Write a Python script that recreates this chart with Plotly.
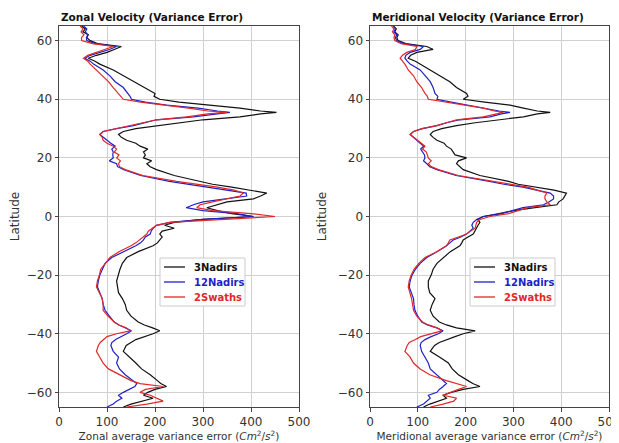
import plotly.graph_objects as go

lat = [65, 64, 63, 62, 61, 60, 59, 58, 57, 56, 55, 54, 53, 52, 50, 48, 46, 44, 42, 41,
       40, 39, 38, 37, 36, 35.5, 35, 34, 33, 32, 31, 30, 29, 28, 27, 26, 25, 24, 23, 22,
       21, 20, 19, 18, 17, 16, 14, 12, 11, 10, 9, 8, 7, 6, 5, 4, 3, 2, 1, 0,
       -1, -2, -3, -4, -5, -6, -7, -8, -9, -10, -12, -14, -16, -18, -20, -22, -24, -26, -28, -30,
       -32, -34, -36, -37, -38, -39, -40, -41, -42, -43, -44, -46, -48, -50, -52, -54, -56, -57, -58, -59,
       -60, -61, -62, -63, -64, -65]

zonal_3nadirs = [47, 55, 50, 61, 58, 65, 80, 130, 115, 100, 78, 61, 75, 85, 113, 134, 155, 176, 200, 198,
                 210, 250, 321, 377, 420, 453, 420, 377, 300, 250, 203, 160, 134, 124, 130, 141, 160, 169, 185, 176,
                 180, 176, 193, 183, 190, 203, 240, 290, 320, 360, 400, 433, 420, 405, 350, 328, 308, 330, 360, 405,
                 300, 240, 220, 240, 215, 210, 215, 210, 205, 196, 165, 141, 132, 127, 124, 120, 122, 124, 132, 138,
                 141, 150, 165, 178, 195, 210, 196, 180, 160, 150, 140, 134, 148, 160, 172, 190, 205, 212, 224, 200,
                 185, 176, 196, 170, 150, 134]
zonal_12nadirs = [51, 58, 55, 60, 57, 58, 75, 120, 105, 85, 65, 54, 65, 72, 92, 106, 117, 134, 144, 148,
                  151, 180, 224, 290, 330, 356, 330, 280, 203, 180, 155, 120, 92, 85, 92, 100, 108, 117, 110, 113,
                  112, 113, 105, 120, 122, 135, 170, 230, 270, 315, 360, 390, 391, 340, 300, 280, 265, 300, 370, 405,
                  300, 231, 203, 196, 192, 190, 180, 176, 170, 160, 135, 110, 96, 90, 85, 82, 80, 85, 90, 92,
                  96, 105, 115, 125, 140, 151, 141, 128, 118, 110, 108, 113, 124, 120, 126, 138, 155, 162, 158, 145,
                  134, 124, 131, 120, 113, 100]
zonal_2swaths = [44, 50, 46, 52, 47, 47, 70, 113, 95, 78, 60, 51, 60, 65, 78, 89, 103, 113, 124, 128,
                 134, 170, 224, 270, 310, 350, 310, 266, 203, 175, 148, 115, 92, 85, 90, 92, 100, 113, 120, 115,
                 125, 120, 128, 124, 126, 138, 175, 245, 290, 330, 365, 384, 377, 345, 320, 294, 287, 320, 400, 450,
                 328, 231, 203, 195, 186, 183, 175, 169, 160, 150, 125, 106, 96, 87, 84, 80, 78, 84, 90, 92,
                 92, 102, 115, 125, 140, 148, 120, 100, 92, 86, 82, 78, 85, 92, 103, 125, 150, 169, 217, 180,
                 169, 190, 203, 217, 183, 141]

merid_3nadirs = [49, 55, 52, 59, 56, 59, 75, 119, 132, 98, 85, 80, 95, 105, 126, 146, 167, 181, 202, 205,
                 195, 240, 293, 321, 350, 377, 350, 321, 265, 220, 181, 150, 132, 126, 132, 140, 155, 160, 170, 174,
                 178, 202, 185, 181, 188, 195, 230, 290, 310, 350, 385, 411, 408, 404, 395, 391, 345, 300, 270, 237,
                 225, 230, 226, 223, 220, 216, 205, 195, 192, 188, 168, 153, 140, 132, 128, 122, 122, 125, 136, 130,
                 126, 132, 145, 160, 181, 220, 195, 178, 160, 145, 135, 126, 146, 164, 172, 185, 205, 215, 230, 195,
                 170, 153, 160, 140, 125, 112]
merid_12nadirs = [49, 53, 50, 56, 53, 56, 70, 112, 105, 84, 75, 73, 78, 84, 105, 115, 126, 132, 136, 142,
                  140, 170, 202, 237, 270, 293, 275, 251, 188, 160, 140, 110, 91, 84, 90, 98, 105, 112, 106, 110,
                  114, 115, 112, 119, 125, 140, 180, 250, 280, 320, 350, 377, 384, 384, 375, 363, 320, 300, 275, 237,
                  223, 216, 213, 216, 208, 202, 190, 174, 167, 160, 140, 119, 105, 95, 88, 84, 82, 86, 91, 92,
                  94, 100, 108, 120, 140, 153, 143, 128, 115, 107, 105, 108, 115, 122, 126, 140, 155, 160, 153, 145,
                  140, 122, 126, 118, 112, 98]
merid_2swaths = [45, 50, 47, 52, 50, 52, 65, 98, 95, 77, 68, 63, 68, 73, 80, 91, 98, 108, 115, 120,
                 122, 160, 195, 237, 260, 279, 265, 237, 181, 160, 140, 108, 91, 84, 92, 98, 106, 115, 110, 118,
                 120, 122, 128, 122, 128, 143, 185, 260, 290, 330, 350, 370, 366, 366, 370, 377, 330, 310, 290, 251,
                 230, 223, 222, 220, 210, 202, 185, 167, 164, 160, 140, 115, 102, 92, 86, 82, 80, 84, 87, 89,
                 91, 98, 110, 122, 140, 150, 126, 106, 95, 82, 78, 73, 84, 91, 105, 125, 160, 180, 202, 185,
                 167, 153, 181, 175, 153, 126]

series_names = ["3Nadirs", "12Nadirs", "2Swaths"]
series_colors = ["#111111", "#1f1fc8", "#e02828"]
panel_titles = ["Zonal Velocity (Variance Error)", "Meridional Velocity (Variance Error)"]
x_titles = ["Zonal average variance error (<i>Cm</i><sup>2</sup>/<i>s</i><sup>2</sup>)",
            "Meridional average variance error (<i>Cm</i><sup>2</sup>/<i>s</i><sup>2</sup>)"]
x_ticks = [0, 100, 200, 300, 400, 500]
y_ticks = [-60, -40, -20, 0, 20, 40, 60]

# The page body has an 8px margin, so the figure is drawn offset by (8, 8).
OFF = 8
W, H = 619 - OFF, 443 - OFF


def px(x):
    return (x - OFF) / W


def py(y):
    return 1 - (y - OFF) / H


fig = go.Figure()

panels = [(zonal_3nadirs, zonal_12nadirs, zonal_2swaths),
          (merid_3nadirs, merid_12nadirs, merid_2swaths)]

for p, data in enumerate(panels):
    xa = "x" if p == 0 else "x2"
    ya = "y" if p == 0 else "y2"
    for vals, name, col in zip(data, series_names, series_colors):
        fig.add_trace(go.Scatter(
            x=vals, y=lat, mode="lines", xaxis=xa, yaxis=ya,
            line=dict(color=col, width=1.2), name=name, showlegend=False,
        ))

dom_x = [[px(59), px(299)], [px(370), px(609)]]
dom_y = [py(407), py(26)]

axis_common = dict(
    showline=True, linecolor="#444", linewidth=1, mirror=True,
    showgrid=True, gridcolor="#d0d0d0", gridwidth=1,
    ticks="outside", ticklen=3.5, tickcolor="#444",
    tickfont=dict(size=12, color="#333", family="DejaVu Sans"),
    zeroline=False, automargin=False, ticklabeloverflow="allow",
)

layout = dict(
    width=W, height=H, margin=dict(l=0, r=0, t=0, b=0),
    paper_bgcolor="white", plot_bgcolor="white",
    font=dict(family="DejaVu Sans", color="#333"),
    showlegend=False,
)
for p in range(2):
    sfx = "" if p == 0 else "2"
    layout["xaxis" + sfx] = dict(axis_common, domain=dom_x[p], range=[0, 500], tickvals=x_ticks,
                                  anchor="y" + sfx,
                                  title=dict(text=x_titles[p], font=dict(size=10.5, color="#333"), standoff=2))
    layout["yaxis" + sfx] = dict(axis_common, domain=dom_y, range=[-65, 65], tickvals=y_ticks,
                                  anchor="x" + sfx,
                                  title=dict(text="Latitude", font=dict(size=12, color="#333"), standoff=8))

fig.update_layout(**layout)

for p in range(2):
    fig.add_annotation(text=f"<b>{panel_titles[p]}</b>", xref="paper", yref="paper",
                       x=dom_x[p][0], y=py(17), xanchor="left", yanchor="middle",
                       showarrow=False, font=dict(size=10.5, color="#111", family="DejaVu Sans"))

# legend boxes (drawn like matplotlib's legend)
legend_left = [160, 470]
row_y = [267, 282, 297]
for lx in legend_left:
    fig.add_shape(type="rect", xref="paper", yref="paper",
                  x0=px(lx), x1=px(lx + 85), y0=py(306), y1=py(258),
                  line=dict(color="#cccccc", width=1), fillcolor="rgba(255,255,255,0.85)", layer="above")
    for name, col, ry in zip(series_names, series_colors, row_y):
        fig.add_shape(type="line", xref="paper", yref="paper",
                      x0=px(lx + 4), x1=px(lx + 25), y0=py(ry), y1=py(ry),
                      line=dict(color=col, width=1.3), layer="above")
        fig.add_annotation(text=f"<b>{name}</b>", xref="paper", yref="paper",
                           x=px(lx + 32), y=py(ry), xanchor="left", yanchor="middle",
                           showarrow=False, font=dict(size=10, color=col, family="DejaVu Sans"))

fig.write_html("out.html")
